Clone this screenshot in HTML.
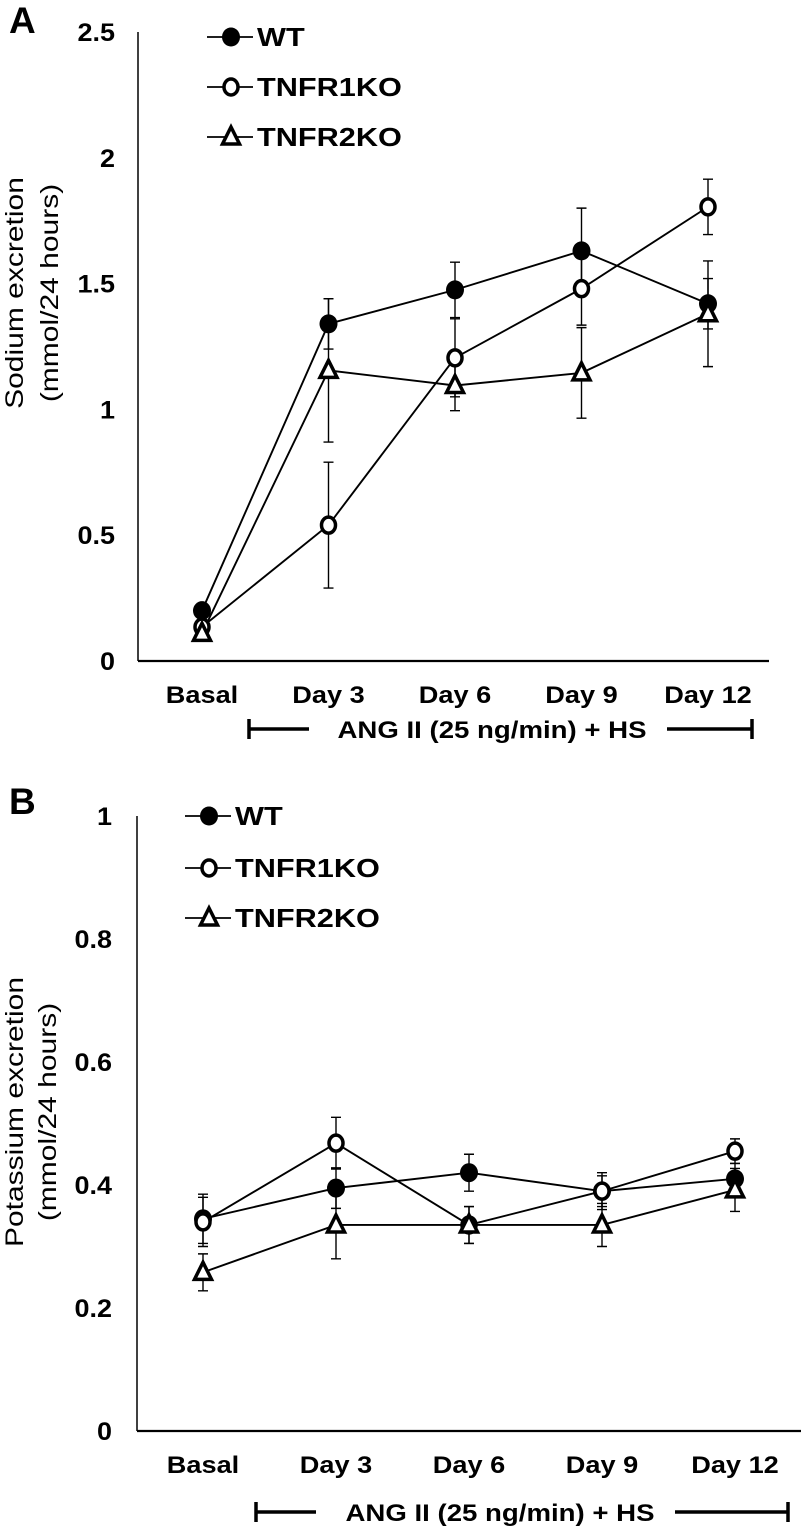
<!DOCTYPE html>
<html>
<head>
<meta charset="utf-8">
<style>
html,body{margin:0;padding:0;background:#fff;}
svg{display:block;font-family:"Liberation Sans",Arial,sans-serif;}
</style>
</head>
<body>
<svg id="fig" width="801" height="1532" viewBox="0 0 801 1532" xmlns="http://www.w3.org/2000/svg"></svg>
<script>
const categories = ["Basal","Day 3","Day 6","Day 9","Day 12"];
// Panel A: sodium excretion
const naWT = [0.20, 1.34, 1.475, 1.63, 1.42];
const naWTerr = [0.02, 0.10, 0.11, 0.17, 0.10];
const naR1 = [0.135, 0.54, 1.205, 1.48, 1.805];
const naR1err = [0.02, 0.25, 0.155, 0.145, 0.11];
const naR2 = [0.11, 1.155, 1.095, 1.145, 1.38];
const naR2err = [0.02, 0.285, 0.10, 0.18, 0.21];
const naTicks = [0, 0.5, 1, 1.5, 2, 2.5];
const naTickLabels = ["0","0.5","1","1.5","2","2.5"];
// Panel B: potassium excretion
const kWT = [0.345, 0.395, 0.42, 0.39, 0.41];
const kWTerr = [0.04, 0.033, 0.03, 0.03, 0.025];
const kR1 = [0.34, 0.468, 0.335, 0.39, 0.455];
const kR1err = [0.04, 0.042, 0.03, 0.025, 0.02];
const kR2 = [0.258, 0.335, 0.335, 0.335, 0.392];
const kR2err = [0.03, 0.055, 0.03, 0.035, 0.035];
const kTicks = [0, 0.2, 0.4, 0.6, 0.8, 1];
const kTickLabels = ["0","0.2","0.4","0.6","0.8","1"];

const NS = "http://www.w3.org/2000/svg";
const svg = document.getElementById("fig");
function mk(tag, attrs, parent){
  const e = document.createElementNS(NS, tag);
  for (const k in attrs) e.setAttribute(k, attrs[k]);
  (parent||svg).appendChild(e);
  return e;
}
function widen(t, f){
  const w = t.getComputedTextLength();
  if (w > 0) {
    t.setAttribute("textLength", (w * f).toFixed(1));
    t.setAttribute("lengthAdjust", "spacingAndGlyphs");
  }
}

function marker(g, type, x, y){
  let m;
  if (type === "filled") {
    m = mk("ellipse", {cx:x, cy:y, rx:9, ry:9.5, fill:"#000"}, g);
  } else if (type === "open") {
    m = mk("ellipse", {cx:x, cy:y, rx:7, ry:8, fill:"#fff", stroke:"#000", "stroke-width":3.5}, g);
  } else {
    m = mk("polygon", {points:`${x},${y-10} ${x+8.5},${y+7} ${x-8.5},${y+7}`, fill:"#fff", stroke:"#000", "stroke-width":3.5, "stroke-linejoin":"miter"}, g);
  }
  return m;
}

function panel(cfg){
  const g = mk("g", {});
  
  
  const x0 = cfg.x0, x1 = cfg.x1, yb = cfg.yb, yt = cfg.yt, vmax = cfg.vmax;
  const xs = i => cfg.cx0 + i * cfg.step;
  const ys = v => yb - v / vmax * (yb - yt);

  const ya = mk("line", {x1:x0, y1:yt, x2:x0, y2:yb, stroke:"#000", "stroke-width":1.5}, g);
  
  
  const xa = mk("line", {x1:x0, y1:yb, x2:x1, y2:yb, stroke:"#000", "stroke-width":2.2}, g);
  
  

  cfg.ticks.forEach((t, i) => {
    const tl = mk("text", {x:cfg.tickX, y:ys(t)+9, "text-anchor":"end", "font-size":25, "font-weight":"bold"}, g);
    tl.textContent = cfg.tickLabels[i];
    
    
    widen(tl, 1.08);
  });

  categories.forEach((c, i) => {
    const t = mk("text", {x:xs(i), y:cfg.catY, "text-anchor":"middle", "font-size":24, "font-weight":"bold"}, g);
    t.textContent = c;
    
    
    widen(t, 1.13);
  });

  const yt1 = mk("text", {x:0, y:0, "text-anchor":"middle", "font-size":25, transform:`translate(${cfg.titleX1},${cfg.titleY}) rotate(-90)`}, g);
  yt1.textContent = cfg.title1;
  
  
  widen(yt1, 1.2);
  const yt2 = mk("text", {x:0, y:0, "text-anchor":"middle", "font-size":25, transform:`translate(${cfg.titleX2},${cfg.titleY}) rotate(-90)`}, g);
  yt2.textContent = "(mmol/24 hours)";
  
  
  widen(yt2, 1.2);

  const pl = mk("text", {x:9, y:cfg.letterY, "font-size":37, "font-weight":"bold"}, g);
  pl.textContent = cfg.letter;
  
  

  const bg = mk("g", {}, g);
  
  
  const by = cfg.bracketY;
  mk("line", {x1:cfg.bL, y1:by-10, x2:cfg.bL, y2:by+10, stroke:"#000", "stroke-width":3.5}, bg);
  mk("line", {x1:cfg.bL, y1:by, x2:cfg.bL+60, y2:by, stroke:"#000", "stroke-width":3.5}, bg);
  mk("line", {x1:cfg.bR, y1:by-10, x2:cfg.bR, y2:by+10, stroke:"#000", "stroke-width":3.5}, bg);
  mk("line", {x1:cfg.bR2, y1:by, x2:cfg.bR, y2:by, stroke:"#000", "stroke-width":3.5}, bg);
  const bt = mk("text", {x:cfg.bTextX, y:by+9, "text-anchor":"middle", "font-size":24, "font-weight":"bold"}, bg);
  bt.textContent = "ANG II (25 ng/min) + HS";
  widen(bt, 1.15);

  const series = [
    {name:"wt", vals:cfg.wt, err:cfg.wtErr, type:"filled"},
    {name:"tnfr1ko", vals:cfg.r1, err:cfg.r1Err, type:"open"},
    {name:"tnfr2ko", vals:cfg.r2, err:cfg.r2Err, type:"tri"}
  ];
  series.forEach(s => {
    const sg = mk("g", {}, g);
    
    
    s.vals.forEach((v, i) => {
      const x = xs(i);
      const eb = mk("path", {d:`M${x},${ys(v+s.err[i])}V${ys(v-s.err[i])}M${x-5},${ys(v+s.err[i])}h10M${x-5},${ys(v-s.err[i])}h10`, stroke:"#000", "stroke-width":1.4, fill:"none"}, sg);
      
      
    });
    const pts = s.vals.map((v, i) => xs(i) + "," + ys(v)).join(" ");
    const ln = mk("polyline", {points:pts, fill:"none", stroke:"#000", "stroke-width":1.9}, sg);
    
    
  });
  series.forEach(s => {
    s.vals.forEach((v, i) => {
      const m = marker(g, s.type, xs(i), ys(v));
      
      
    });
  });

  const lg = mk("g", {}, g);
  
  
  const labels = ["WT","TNFR1KO","TNFR2KO"];
  const types = ["filled","open","tri"];
  labels.forEach((lab, i) => {
    const y = cfg.legY[i];
    const eg = mk("g", {}, lg);
    
    
    mk("line", {x1:cfg.legX, y1:y, x2:cfg.legX+46, y2:y, stroke:"#000", "stroke-width":1.8}, eg);
    marker(eg, types[i], cfg.legX+24, y);
    const t = mk("text", {x:cfg.legX+50, y:y+9, "font-size":26, "font-weight":"bold"}, eg);
    t.textContent = lab;
    widen(t, 1.18);
  });
}

panel({
  name:"panel-a-sodium", letter:"A", letterY:33,
  x0:138, x1:769, yb:661, yt:32, vmax:2.5,
  cx0:202, step:126.5, tickX:115,
  ticks:naTicks, tickLabels:naTickLabels,
  catY:703, title1:"Sodium excretion", titleX1:23, titleX2:58, titleY:293,
  bracketY:729, bL:249, bR:752, bR2:667, bTextX:492,
  wt:naWT, wtErr:naWTerr, r1:naR1, r1Err:naR1err, r2:naR2, r2Err:naR2err,
  legX:207, legY:[37,87,137]
});
panel({
  name:"panel-b-potassium", letter:"B", letterY:814,
  x0:137, x1:801, yb:1431, yt:816, vmax:1,
  cx0:203, step:133, tickX:112,
  ticks:kTicks, tickLabels:kTickLabels,
  catY:1473, title1:"Potassium excretion", titleX1:23, titleX2:56, titleY:1112,
  bracketY:1512, bL:256, bR:788, bR2:675, bTextX:500,
  wt:kWT, wtErr:kWTerr, r1:kR1, r1Err:kR1err, r2:kR2, r2Err:kR2err,
  legX:185, legY:[816,868,918]
});
</script>
</body>
</html>
